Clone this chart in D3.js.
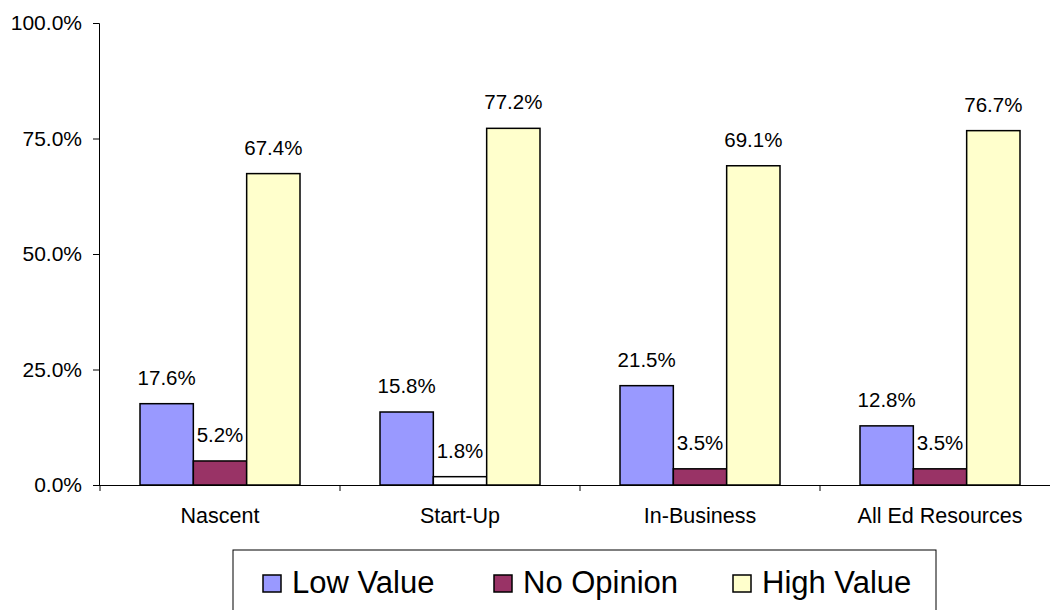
<!DOCTYPE html>
<html>
<head>
<meta charset="utf-8">
<script src="https://cdn.jsdelivr.net/npm/d3@7"></script>
<style>
  html, body { margin: 0; padding: 0; background: #fff; }
  svg { display: block; font-family: "Liberation Sans", Arial, sans-serif; }
</style>
</head>
<body>
<svg id="chart" width="1050" height="610"></svg>
<script>
const categories = ["Nascent", "Start-Up", "In-Business", "All Ed Resources"];
const seriesNames = ["Low Value", "No Opinion", "High Value"];
const lowValue = [0.176, 0.158, 0.215, 0.128];
const noOpinion = [0.052, 0.018, 0.035, 0.035];
const highValue = [0.674, 0.772, 0.691, 0.767];
const yTicks = [0, 0.25, 0.5, 0.75, 1.0];
const colors = ["#9999FF", "#993366", "#FFFFCC"];

const seriesValues = [lowValue, noOpinion, highValue];

const svg = d3.select("#chart");
const x0 = d3.scaleBand().domain(categories).range([100, 1060]).paddingInner(0).paddingOuter(0);
const x1 = d3.scaleBand().domain(seriesNames).range([40, 200]).padding(0);
const y = d3.scaleLinear().domain([0, 1]).range([485, 23]);
const fmt = d3.format(".1%");

// Y axis
const yAxis = d3.axisLeft(y).tickValues(yTicks).tickFormat(fmt).tickSize(6).tickPadding(11);
const gy = svg.append("g").attr("transform", "translate(99,0)").call(yAxis);
gy.select(".domain").attr("stroke", "#000").attr("stroke-width", 1);
gy.selectAll(".tick line").attr("stroke", "#000");
gy.selectAll(".tick text").attr("font-size", 21).attr("fill", "#000").attr("font-family", "Liberation Sans, Arial, sans-serif");

// X axis
svg.append("line").attr("x1", 99).attr("x2", 1050).attr("y1", 485.5).attr("y2", 485.5).attr("stroke", "#000");
const boundaries = categories.map(c => x0(c));
svg.selectAll(".xtick").data(boundaries).enter().append("line")
  .attr("x1", d => d).attr("x2", d => d).attr("y1", 485).attr("y2", 491).attr("stroke", "#000");
svg.selectAll(".xlab").data(categories).enter().append("text")
  .attr("x", d => x0(d) + x0.bandwidth() / 2).attr("y", 523)
  .attr("text-anchor", "middle").attr("font-size", 21.5).text(d => d);

// Bars
const rows = [];
categories.forEach((c, i) => {
  seriesNames.forEach((s, j) => {
    rows.push({ cat: c, ser: s, j: j, v: seriesValues[j][i],
      fill: (c === "Start-Up" && s === "No Opinion") ? "#FFFFFF" : colors[j] });
  });
});
svg.selectAll(".bar").data(rows).enter().append("rect")
  .attr("x", d => x0(d.cat) + x1(d.ser))
  .attr("y", d => y(d.v))
  .attr("width", x1.bandwidth())
  .attr("height", d => y(0) - y(d.v))
  .attr("fill", d => d.fill)
  .attr("stroke", "#000").attr("stroke-width", 1.5);

svg.selectAll(".lbl").data(rows).enter().append("text")
  .attr("x", d => x0(d.cat) + x1(d.ser) + x1.bandwidth() / 2)
  .attr("y", d => y(d.v) - 19)
  .attr("text-anchor", "middle").attr("font-size", 20.5).text(d => fmt(d.v));

// Legend
svg.append("rect").attr("x", 233).attr("y", 550).attr("width", 703).attr("height", 80)
  .attr("fill", "#fff").attr("stroke", "#000").attr("stroke-width", 1);
const legX = [263, 494, 733];
const lg = svg.selectAll(".leg").data(seriesNames).enter().append("g")
  .attr("transform", (d, i) => `translate(${legX[i]},0)`);
lg.append("rect").attr("x", 0).attr("y", 575).attr("width", 18).attr("height", 17)
  .attr("fill", (d, i) => colors[i]).attr("stroke", "#000").attr("stroke-width", 1.5);
lg.append("text").attr("x", 29).attr("y", 593).attr("font-size", 31).text(d => d);
</script>
</body>
</html>
